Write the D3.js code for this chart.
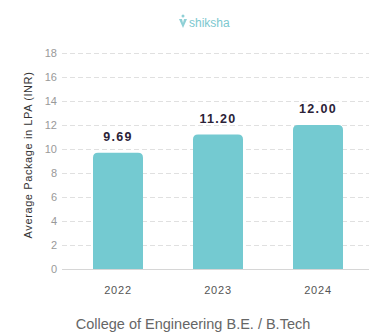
<!DOCTYPE html>
<html>
<head>
<meta charset="utf-8">
<script src="https://cdn.jsdelivr.net/npm/d3@7"></script>
<style>
  body { margin: 0; background: #fff; }
  svg { display: block; font-family: "Liberation Sans", Arial, sans-serif; }
</style>
</head>
<body>
<div id="vis"></div>
<script>
const years = ['2022', '2023', '2024'];
const packages = [9.69, 11.20, 12.00];
const yTicks = [0, 2, 4, 6, 8, 10, 12, 14, 16, 18];

const width = 382;
const height = 336;

const svg = d3.select('#vis')
    .append('svg')
    .attr('width', width)
    .attr('height', height);

const xScale = d3.scaleBand()
    .domain(years)
    .range([68, 368])
    .paddingInner(0.5)
    .paddingOuter(0.25);

const yScale = d3.scaleLinear()
    .domain([0, 18])
    .range([269, 53]);

// grid lines
svg.append('g')
    .selectAll('line')
    .data(yTicks.filter(d => d > 0))
    .join('line')
    .attr('x1', 62)
    .attr('x2', 369)
    .attr('y1', d => yScale(d) + 0.5)
    .attr('y2', d => yScale(d) + 0.5)
    .attr('stroke', '#e0e0e0')
    .attr('stroke-dasharray', '5,3');

// baseline
svg.append('line')
    .attr('x1', 62)
    .attr('x2', 369)
    .attr('y1', yScale(0) + 0.5)
    .attr('y2', yScale(0) + 0.5)
    .attr('stroke', '#d6d6d6');

const yAxis = svg.append('g')
    .attr('transform', 'translate(57,0)')
    .call(d3.axisLeft(yScale).tickValues(yTicks).tickSize(0).tickPadding(0));
yAxis.select('.domain').remove();
yAxis.selectAll('text')
    .attr('fill', '#999')
    .style('font-size', '11px')
    .attr('dy', '0.35em');

// rounded-top bars
const r = 5;
const bw = xScale.bandwidth();
svg.append('g')
    .selectAll('path')
    .data(years.map((y, i) => ({ year: y, value: packages[i] })))
    .join('path')
    .attr('fill', '#74cad1')
    .attr('d', d => {
        const x0 = xScale(d.year);
        const y0 = yScale(d.value);
        const yb = yScale(0);
        return `M${x0},${yb}V${y0 + r}Q${x0},${y0} ${x0 + r},${y0}H${x0 + bw - r}Q${x0 + bw},${y0} ${x0 + bw},${y0 + r}V${yb}Z`;
    });

// value labels
svg.append('g')
    .selectAll('text')
    .data(packages)
    .join('text')
    .attr('x', (d, i) => xScale(years[i]) + bw / 2)
    .attr('y', d => yScale(d) - 12)
    .attr('text-anchor', 'middle')
    .attr('fill', '#2b2238')
    .style('font-size', '12.5px')
    .style('font-weight', 'bold')
    .style('letter-spacing', '1.3px')
    .text(d => d.toFixed(2));

// x labels
const xAxis = svg.append('g')
    .attr('transform', `translate(0,${yScale(0)})`)
    .call(d3.axisBottom(xScale).tickSize(0).tickPadding(17));
xAxis.select('.domain').remove();
xAxis.selectAll('text')
    .attr('fill', '#555')
    .style('font-size', '11px')
    .style('letter-spacing', '0.8px');

// y title
svg.append('text')
    .attr('transform', 'translate(32,155) rotate(-90)')
    .attr('text-anchor', 'middle')
    .attr('fill', '#333')
    .style('font-size', '11px')
    .style('letter-spacing', '0.6px')
    .text('Average Package in LPA (INR)');

// bottom caption
svg.append('text')
    .attr('x', 193)
    .attr('y', 329)
    .attr('text-anchor', 'middle')
    .attr('fill', '#666')
    .style('font-size', '14.5px')
    .text('College of Engineering B.E. / B.Tech');

// logo
const logo = svg.append('g').attr('transform', 'translate(178,14)');
logo.append('path')
    .attr('d', 'M1,5 L4,5 L5,9 L6,5 L9,5 L5,14 Z')
    .attr('fill', '#8fd0d6');
logo.append('circle')
    .attr('cx', 5).attr('cy', 2).attr('r', 1.5)
    .attr('fill', '#8fd0d6');
logo.append('text')
    .attr('x', 11)
    .attr('y', 12.5)
    .attr('fill', '#7cc8cf')
    .style('font-size', '12px')
    .text('shiksha');
</script>
</body>
</html>
